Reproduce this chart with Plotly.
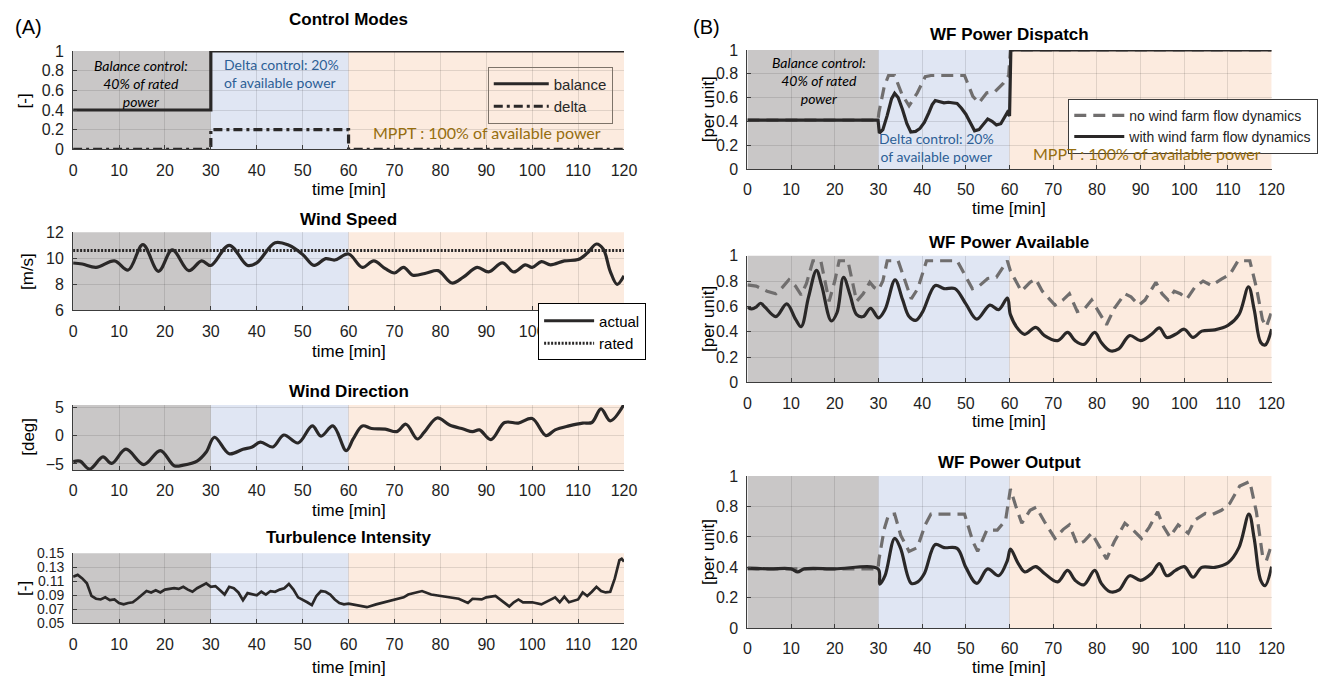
import plotly.graph_objects as go

# ---------------- data ----------------
ctrl_t = [0, 30, 60, 120]
ctrl_balance = [0.4, 1, 1, 1]
ctrl_delta = [0, 0.2, 0, 0]

ws_t = [0, 2, 5, 9, 12, 15.2, 18.6, 21.6, 25.2, 28, 30, 34, 38, 40, 44, 47, 50, 52.5, 55, 57,
        60, 63, 65.5, 68, 70, 72, 74, 77, 79.5, 82.5, 85, 88, 90.5, 93.5, 96, 98.5, 100, 102,
        104, 107, 110, 112, 114, 115.5, 117, 118.5, 120]
ws_actual = [9.64, 9.56, 9.3, 9.8, 9.1, 11.05, 9.0, 10.65, 9.05, 9.8, 9.45, 11.0, 9.45, 9.65, 11.2,
             11.0, 10.3, 9.45, 9.97, 9.87, 10.33, 9.3, 9.8, 9.2, 8.87, 9.3, 8.7, 8.87, 9.05, 8.1,
             8.55, 9.3, 8.95, 9.65, 8.95, 9.5, 9.3, 9.75, 9.5, 9.8, 9.9, 10.4, 11.1, 10.7, 9.0,
             8.0, 8.65]
ws_rated_t = [0, 120]
ws_rated = [10.6, 10.6]

wd_t = [0, 1.5, 3.6, 6.5, 8.4, 11.5, 15.4, 19, 22, 24, 27, 29, 30.8, 34, 37, 39, 40.8, 43.5, 45.9,
        49, 52.1, 54, 56.6, 59.5, 61, 63, 65, 68, 70.5, 72.5, 75, 76.5, 79.3, 82, 85, 87, 88.5,
        91, 94, 97, 100, 103, 105, 108, 111, 113, 115, 117, 120]
wd = [-4.6, -4.5, -5.9, -3.75, -4.9, -2.4, -5.1, -2.65, -5.3, -5.2, -4.5, -2.9, -0.3, -3.2, -2.4,
      -2.0, -1.15, -2.0, 0.1, -1.3, 1.7, -0.1, 1.7, -2.65, -0.6, 1.7, 1.25, 1.15, 0.7, 2.0, -0.6,
      0.6, 3.1, 1.85, 1.15, 0.7, 1.0, -0.7, 2.3, 2.2, 3.0, 0.0, 1.0, 1.7, 2.2, 2.3, 4.7, 2.6, 5.5]

ti_t = list(range(0, 61)) + [62, 64, 66, 68, 70, 72, 73, 75, 76, 78, 80, 82, 84, 86, 87, 89, 90, 92,
                             93, 94, 95, 96, 97, 98, 100, 102, 104, 105, 106, 107, 108, 110, 111,
                             112, 113, 114, 115, 116, 117, 118, 119, 119.5, 120]
ti = [0.1165, 0.119, 0.114, 0.107, 0.089, 0.085, 0.084, 0.087, 0.083, 0.084,
      0.079, 0.077, 0.079, 0.080, 0.085, 0.091, 0.096, 0.094, 0.097, 0.094,
      0.098, 0.099, 0.100, 0.099, 0.102, 0.098, 0.095, 0.100, 0.103, 0.107,
      0.102, 0.103, 0.097, 0.091, 0.102, 0.100, 0.094, 0.083, 0.093, 0.091,
      0.090, 0.095, 0.091, 0.096, 0.095, 0.098, 0.100, 0.106, 0.098, 0.087,
      0.084, 0.080, 0.076, 0.089, 0.096, 0.095, 0.091, 0.084, 0.079, 0.077,
      0.078,
      0.076, 0.073, 0.077, 0.080, 0.084, 0.087, 0.091, 0.094, 0.096, 0.091,
      0.089, 0.087, 0.085, 0.079, 0.085, 0.084, 0.087, 0.089, 0.084, 0.080,
      0.074, 0.080, 0.084, 0.080, 0.080, 0.077, 0.084, 0.087, 0.080, 0.088,
      0.080, 0.084, 0.094, 0.089, 0.095, 0.102, 0.096, 0.094, 0.095, 0.114,
      0.140, 0.142, 0.138]

dsp_nodyn_t = [0, 29.9, 30.1, 31.3, 32.3, 33.7, 35.4, 37, 38.9, 40.7, 42, 49.7, 51.6, 53, 54.8,
               56.7, 58.6, 59.8, 60.2, 120]
dsp_nodyn = [0.41, 0.41, 0.475, 0.69, 0.785, 0.785, 0.625, 0.53, 0.64, 0.775, 0.785, 0.785, 0.61,
             0.555, 0.64, 0.65, 0.72, 0.785, 1.0, 1.0]
dsp_dyn_t = [0, 29.9, 30.2, 31, 32, 33, 33.7, 34.5, 35.5, 36.5, 37.4, 38.5, 39.5, 40.5, 41.5, 42.3,
             43, 44, 45, 46, 47, 48, 49, 50, 51, 52, 53, 54, 55, 56, 57, 58, 59, 59.5, 60, 60.3, 120]
dsp_dyn = [0.41, 0.41, 0.30, 0.33, 0.45, 0.59, 0.635, 0.60, 0.50, 0.38, 0.31, 0.315, 0.34, 0.39,
           0.47, 0.54, 0.575, 0.565, 0.555, 0.56, 0.555, 0.55, 0.51, 0.46, 0.39, 0.32, 0.33, 0.38,
           0.42, 0.40, 0.37, 0.38, 0.44, 0.475, 0.445, 1.0, 1.0]

av_nodyn_t = [0, 2, 4.5, 6.5, 8, 9.5, 11, 12.3, 13.5, 15, 16.8, 17.8, 18.7, 20, 21, 23, 24, 25,
              26.5, 28, 29, 30, 31, 32, 34.5, 36, 37.5, 39, 41, 48, 49.5, 51.5, 53, 55, 57, 59.5,
              60.2, 61, 62.7, 64.7, 66, 67.5, 70.4, 72.2, 73.7, 75.5, 77, 78.8, 80.7, 82.2, 84,
              86.4, 87.8, 89.6, 91, 93.5, 94.9, 96.3, 97.7, 99.1, 100.6, 102.4, 104.3, 106.2,
              108.5, 110.5, 112.3, 115, 116.5, 117.9, 118.8, 120]
av_nodyn = [0.77, 0.76, 0.72, 0.70, 0.75, 0.81, 0.76, 0.69, 0.78, 0.96, 0.96, 0.80, 0.64, 0.80,
            0.96, 0.96, 0.80, 0.64, 0.70, 0.79, 0.75, 0.73, 0.80, 0.96, 0.96, 0.80, 0.66, 0.74,
            0.96, 0.96, 0.86, 0.74, 0.76, 0.82, 0.83, 0.96, 0.88, 0.83, 0.72, 0.79, 0.815, 0.72,
            0.61, 0.65, 0.70, 0.56, 0.575, 0.65, 0.535, 0.455, 0.585, 0.70, 0.675, 0.61, 0.65,
            0.79, 0.70, 0.65, 0.72, 0.70, 0.66, 0.75, 0.80, 0.765, 0.815, 0.855, 0.96, 0.96,
            0.75, 0.495, 0.44, 0.56]
av_dyn_t = [0, 1, 2, 3, 4, 6.5, 9, 11, 12.3, 14, 15.8, 17, 19.2, 20.5, 22, 23.5, 25, 26.5, 28.2,
            30, 31.5, 33.8, 35.5, 37, 38.5, 40, 43, 45, 47.5, 50, 52.5, 55.5, 57.5, 59.5, 60.2,
            62, 63.5, 66, 68, 71, 73.3, 75, 77, 79.5, 81, 83, 85, 87.5, 90, 92.5, 94.3, 96, 98,
            100, 102, 104, 107, 110, 112.5, 114.7, 116, 117.5, 118.5, 120]
av_dyn = [0.595, 0.58, 0.595, 0.625, 0.595, 0.52, 0.62, 0.50, 0.44, 0.675, 0.885, 0.765, 0.485,
          0.55, 0.83, 0.69, 0.535, 0.52, 0.585, 0.51, 0.575, 0.81, 0.655, 0.52, 0.49, 0.55, 0.765,
          0.74, 0.74, 0.62, 0.50, 0.61, 0.575, 0.665, 0.535, 0.42, 0.38, 0.435, 0.37, 0.33, 0.395,
          0.33, 0.30, 0.395, 0.315, 0.25, 0.265, 0.37, 0.33, 0.38, 0.43, 0.355, 0.38, 0.42, 0.355,
          0.405, 0.415, 0.45, 0.535, 0.755, 0.575, 0.315, 0.295, 0.42]

out_nodyn_t = [0, 29.9, 30.1, 31.3, 32.3, 33.7, 35.1, 37, 38.9, 40.7, 42, 49.7, 51.6, 52.7, 54.8,
               57.2, 59.1, 60.2, 61.4, 62.8, 64.7, 66.1, 68, 70.4, 72.3, 73.7, 75.5, 77, 78.8,
               80.7, 82.2, 84, 86.4, 88.3, 90.2, 92, 93.9, 95.3, 96.7, 98.6, 100.9, 102.4, 104.8,
               106.2, 108.5, 110.4, 112.7, 115, 116.5, 117.9, 118.8, 120]
out_nodyn = [0.39, 0.39, 0.45, 0.65, 0.745, 0.75, 0.61, 0.505, 0.53, 0.68, 0.75, 0.75, 0.57,
             0.505, 0.645, 0.645, 0.71, 0.915, 0.805, 0.69, 0.775, 0.795, 0.70, 0.59, 0.65, 0.68,
             0.55, 0.57, 0.625, 0.53, 0.455, 0.57, 0.69, 0.645, 0.59, 0.665, 0.765, 0.665, 0.60,
             0.68, 0.625, 0.71, 0.755, 0.745, 0.775, 0.82, 0.935, 0.965, 0.765, 0.48, 0.445, 0.55]
out_dyn_t = [0, 5, 10, 11.5, 13, 20, 29.9, 30.3, 31.5, 33.7, 35, 37.5, 39, 40.5, 43, 45, 48, 50,
             52.5, 55, 57.5, 59.5, 60.2, 62, 63.5, 66, 68, 71, 73.3, 75, 77, 79.5, 81, 83, 85,
             87.5, 90, 92.5, 94.3, 96, 98, 100, 102, 104, 107, 110, 112.5, 114.8, 116, 117.5,
             118.5, 120]
out_dyn = [0.395, 0.39, 0.39, 0.37, 0.39, 0.39, 0.39, 0.29, 0.345, 0.59, 0.53, 0.295, 0.305, 0.36,
           0.55, 0.53, 0.525, 0.40, 0.295, 0.39, 0.345, 0.445, 0.52, 0.425, 0.37, 0.405, 0.36,
           0.305, 0.38, 0.315, 0.285, 0.38, 0.295, 0.24, 0.25, 0.345, 0.315, 0.36, 0.425, 0.345,
           0.38, 0.405, 0.335, 0.40, 0.40, 0.43, 0.53, 0.75, 0.59, 0.315, 0.28, 0.405]

x_ticks = [0, 10, 20, 30, 40, 50, 60, 70, 80, 90, 100, 110, 120]
x_labels = ["0", "10", "20", "30", "40", "50", "60", "70", "80", "90", "100", "110", "120"]
# in the wind-speed panel the legend box hides the last two tick labels
x_labels_ws = ["0", "10", "20", "30", "40", "50", "60", "70", "80", "90", "100", "", ""]
regions = [(0, 30, "rgb(201,199,199)"), (30, 60, "rgb(224,230,243)"), (60, 120, "rgb(252,235,223)")]

# ---------------- style ----------------
W, H = 1336, 685
FONT = "Liberation Sans"
DARK = "rgb(42,40,40)"
GREYD = "rgb(112,110,110)"
GRID = "rgba(0,0,0,0.11)"
AXC = "rgb(60,60,60)"


def px(x):
    return x / W


def py(y):
    return 1 - y / H


# subplot boxes in pixels: (left, right, top, bottom)
boxes = [
    (70, 628, 44, 145),     # control modes
    (70, 628, 230, 310),    # wind speed
    (70, 628, 407, 474),    # wind direction
    (70, 628, 559, 631),    # turbulence
    (753, 1284, 43, 165),   # dispatch
    (753, 1284, 254, 384),  # available
    (753, 1284, 480, 636),  # output
]
unit_ticks = dict(range=[0, 1], tickvals=[0, 0.2, 0.4, 0.6, 0.8, 1],
                  ticktext=["0", "0.2", "0.4", "0.6", "0.8", "1"])
y_specs = [
    dict(unit_ticks),
    dict(range=[6, 12], tickvals=[6, 8, 10, 12]),
    dict(range=[-6.1, 5.4], tickvals=[-5, 0, 5]),
    dict(range=[0.05, 0.15], tickvals=[0.05, 0.07, 0.09, 0.11, 0.13, 0.15],
         ticktext=["0.05", "0.07", "0.09", "0.11", "0.13", "0.15"], tickfont_size=14),
    dict(unit_ticks),
    dict(unit_ticks),
    dict(unit_ticks),
]

layout = dict(
    width=W, height=H, margin=dict(l=0, r=0, t=0, b=0),
    paper_bgcolor="white", plot_bgcolor="rgba(0,0,0,0)",
    font=dict(family=FONT, size=16, color="black"),
    shapes=[], annotations=[],
)

for i, (l, r, t, b) in enumerate(boxes):
    n = "" if i == 0 else str(i + 1)
    layout["xaxis" + n] = dict(
        domain=[px(l), px(r)], anchor="y" + n, range=[0, 120], tickvals=x_ticks,
        ticktext=x_labels_ws if i == 1 else x_labels,
        showgrid=True, gridcolor=GRID, gridwidth=1, zeroline=False,
        showline=True, linecolor=AXC, linewidth=1, ticks="inside", ticklen=4, tickcolor=AXC,
        tickfont=dict(size=16, family=FONT, color="rgb(30,30,30)"), ticklabelstandoff=6,
    )
    ys = dict(y_specs[i])
    tfs = ys.pop("tickfont_size", 16)
    layout["yaxis" + n] = dict(
        domain=[py(b), py(t)], anchor="x" + n, showgrid=True, gridcolor=GRID, gridwidth=1,
        zeroline=False, showline=True, linecolor=AXC, linewidth=1, ticks="inside", ticklen=4,
        tickcolor=AXC, tickfont=dict(size=tfs, family=FONT, color="rgb(30,30,30)"),
        ticklabelstandoff=5, **ys,
    )
    for (x0, x1, c) in regions:
        layout["shapes"].append(dict(type="rect", xref="x" + n, yref="y" + n + " domain",
                                     x0=x0, x1=x1, y0=0, y1=1, fillcolor=c, line=dict(width=0),
                                     layer="below"))

fig = go.Figure()


def add(x, y, ax, name, color, dash="solid", shape="linear", legend=None, width=3.2, smoothing=1.0):
    line = dict(color=color, width=width, dash=dash, shape=shape)
    if shape == "spline":
        line["smoothing"] = smoothing
    fig.add_trace(go.Scatter(
        x=x, y=y, mode="lines", name=name, line=line,
        xaxis="x" + ax, yaxis="y" + ax,
        showlegend=legend is not None, legend=legend if legend else "legend",
    ))


add(ctrl_t, ctrl_balance, "", "balance", DARK, shape="hv", legend="legend")
add(ctrl_t, ctrl_delta, "", "delta", DARK, dash="9px,4px,3px,4px", shape="hv", legend="legend")
add(ws_t, ws_actual, "2", "actual", DARK, shape="spline", legend="legend2")
add(ws_rated_t, ws_rated, "2", "rated", DARK, dash="2px,1.5px", legend="legend2")
add(wd_t, wd, "3", "wind direction", DARK, shape="spline")
add(ti_t, ti, "4", "turbulence intensity", DARK, width=2.7)
add(dsp_nodyn_t, dsp_nodyn, "5", "no wind farm flow dynamics", GREYD, dash="12px,7px", legend="legend3")
add(dsp_dyn_t, dsp_dyn, "5", "with wind farm flow dynamics", DARK, legend="legend3")
add(av_nodyn_t, av_nodyn, "6", "no wind farm flow dynamics", GREYD, dash="12px,7px")
add(av_dyn_t, av_dyn, "6", "with wind farm flow dynamics", DARK, shape="spline")
add(out_nodyn_t, out_nodyn, "7", "no wind farm flow dynamics", GREYD, dash="12px,7px")
add(out_dyn_t, out_dyn, "7", "with wind farm flow dynamics", DARK, shape="spline")

layout["legend"] = dict(x=px(490), y=py(60), xanchor="left", yanchor="top",
                        bgcolor="rgba(0,0,0,0)", bordercolor="rgb(125,115,105)", borderwidth=1,
                        font=dict(size=15, family=FONT, color="rgb(40,40,40)"), itemwidth=55,
                        tracegroupgap=0)
layout["legend2"] = dict(x=px(541), y=py(303), xanchor="left", yanchor="top",
                         bgcolor="white", bordercolor="black", borderwidth=1,
                         font=dict(size=15, family=FONT, color="black"), itemwidth=50,
                         tracegroupgap=0)
layout["legend3"] = dict(x=px(1078), y=py(93), xanchor="left", yanchor="top",
                         bgcolor="white", bordercolor="rgb(60,60,60)", borderwidth=1,
                         font=dict(size=14, family=FONT, color="rgb(30,30,30)"), itemwidth=50,
                         tracegroupgap=0)


def note(text, x, y, size=16, color="black", bold=False, italic=False, family=FONT,
         angle=0, xanchor="center", yanchor="middle", align="center"):
    t = text
    if bold:
        t = "<b>" + t + "</b>"
    if italic:
        t = "<i>" + t + "</i>"
    layout["annotations"].append(dict(
        text=t, x=px(x), y=py(y), xref="paper", yref="paper", showarrow=False,
        font=dict(size=size, color=color, family=family), textangle=angle,
        xanchor=xanchor, yanchor=yanchor, align=align))


# panel labels
note("(A)", 25, 19, size=20)
note("(B)", 712, 19, size=20)

# titles
for txt, x, y in [("Control Modes", 349, 12), ("Wind Speed", 349, 217),
                  ("Wind Direction", 349, 393), ("Turbulence Intensity", 349, 543),
                  ("WF Power Dispatch", 1018, 27), ("WF Power Available", 1018, 240),
                  ("WF Power Output", 1018, 466)]:
    note(txt, x, y, size=17, bold=True)

# x-axis titles
for x, y in [(349, 186), (349, 352), (349, 515), (349, 676), (1018, 206), (1018, 424), (1018, 676)]:
    note("time [min]", x, y, size=17)

# y-axis titles
for txt, x, y in [("[-]", 21, 95), ("[m/s]", 24, 270), ("[deg]", 24, 440), ("[-]", 21, 595),
                  ("[per unit]", 713, 104), ("[per unit]", 713, 319), ("[per unit]", 713, 558)]:
    note(txt, x, y, size=17, angle=-90)

CAL = "Lato"
BLUE = "rgb(45,95,150)"
GOLD = "rgb(150,110,15)"
# control modes annotations
note("Balance control:<br>40% of rated<br>power", 139, 77, size=14, italic=True, family=CAL)
note("Delta control: 20%<br>of available power", 221, 67, size=14, color=BLUE, family=CAL,
     xanchor="left", align="left")
note("MPPT : 100% of available power", 372, 128, size=16, color=GOLD, family=CAL, xanchor="left")
# dispatch annotations
note("Balance control:<br>40% of rated<br>power", 825, 74, size=14, italic=True, family=CAL)
note("Delta control: 20%<br>of available power", 945, 143, size=14, color=BLUE, family=CAL)
note("MPPT : 100% of available power", 1040, 149, size=16, color=GOLD, family=CAL, xanchor="left")

fig.update_layout(**layout)

post = (
    "document.documentElement.style.margin='0';"
    "document.documentElement.style.overflow='hidden';"
    "document.body.style.margin='0';"
    "document.body.style.overflow='hidden';"
)
fig.write_html("out.html", config={"displayModeBar": False}, post_script=post)
